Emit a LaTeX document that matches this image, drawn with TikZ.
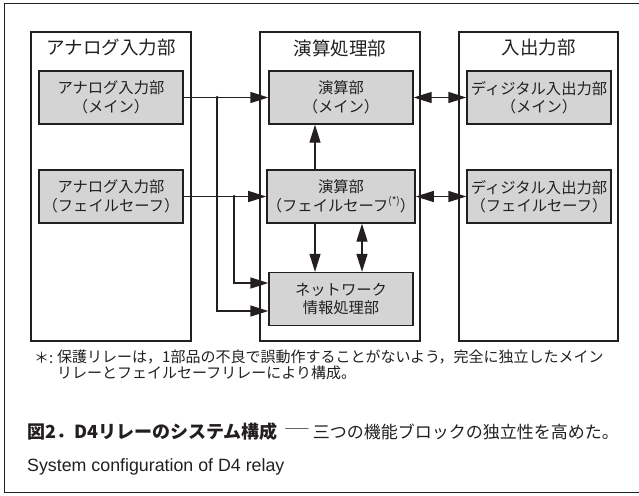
\documentclass[tikz,border=0pt]{standalone}
\usepackage{fontspec}
\setmainfont{Noto Sans CJK JP}
\newfontfamily\en{Liberation Sans}
\usetikzlibrary{arrows.meta}
\definecolor{boxgray}{HTML}{D4D4D4}
\definecolor{ink}{HTML}{231F20}
\begin{document}
\begin{tikzpicture}[x=1pt,y=-1pt,
  col/.style={draw=ink, line width=1.3pt, rectangle, minimum width=160pt, minimum height=309pt, inner sep=0},
  unit/.style={draw=ink, fill=boxgray, line width=1.3pt, rectangle, minimum width=144pt, minimum height=53pt,
     inner sep=0, align=center, font=\fontsize{15.3}{18.5}\selectfont, text=ink},
  ttl/.style={font=\fontsize{18.5}{20}\selectfont, text=ink, inner sep=0},
  tip/.tip={Triangle[length=18pt,width=11pt]},
  arr/.style={draw=ink, line width=1.3pt, -tip},
  darr/.style={draw=ink, line width=1.3pt, tip-tip},
  dot/.style={circle, fill=ink, inner sep=0, minimum size=3.5pt},
]
\useasboundingbox (0,0) rectangle (639,495);
\draw[ink, line width=1pt] (640,4) -- (4,4) -- (4,492) -- (640,492);

% columns
\node[col] (colA) at (111,186.5) {};
\node[col] (colB) at (340,186.5) {};
\node[col, minimum width=159pt] (colC) at (538.5,186.5) {};
\node[ttl] (tA) at (111,48) {アナログ入力部};
\node[ttl] (tB) at (340,48) {演算処理部};
\node[ttl] (tC) at (538.5,48) {入出力部};

% units
\node[unit] (ain1) at (111,97.5) {アナログ入力部\\（メイン）};
\node[unit] (ain2) at (111,196.5) {アナログ入力部\\（フェイルセーフ）};
\node[unit] (calc1) at (341,97.5) {演算部\\（メイン）};
\node[unit] (calc2) at (341,196.5) {演算部\\（フェイルセーフ\raisebox{0.45em}{\fontsize{10}{10}\selectfont(*)}）};
\node[unit] (net) at (341,299) {ネットワーク\\情報処理部};
\node[unit] (dio1) at (539,97.5) {ディジタル入出力部\\（メイン）};
\node[unit] (dio2) at (539,196.5) {ディジタル入出力部\\（フェイルセーフ）};

% helper coordinates
\coordinate (j1) at (217,97.5);
\coordinate (j2) at (234,196.5);
\coordinate (r1) at (0,311);
\coordinate (r2) at (0,283);
\coordinate (v1) at (315,0);
\coordinate (v2) at (362,0);

% connectors
\draw[arr] (ain1.east) -- (calc1.west);
\draw[arr] (ain2.east) -- (calc2.west);
\draw[arr] (j1) |- (net.west |- r1);
\draw[arr] (j2) |- (net.west |- r2);
\node[dot] (d1) at (j1) {};
\node[dot] (d2) at (j2) {};
\draw[arr] (calc2.north -| v1) -- (calc1.south -| v1);
\draw[arr] (calc2.south -| v1) -- (net.north -| v1);
\draw[darr] (calc2.south -| v2) -- (net.north -| v2);
\draw[darr] (calc1.east) -- (dio1.west);
\draw[darr] (calc2.east) -- (dio2.west);

% footnote
\node[anchor=west, inner sep=0, text=ink, font=\fontsize{15}{15}\selectfont] (fa) at (34,358) {＊:};
\node[anchor=north west, inner sep=0, text=ink, align=left, font=\fontsize{15}{15.5}\selectfont] (fb) at (57,350)
  {保護リレーは，1部品の不良で誤動作することがないよう，完全に独立したメイン\\リレーとフェイルセーフリレーにより構成。};

% caption
\node[anchor=west, inner sep=0, text=ink, font=\fontsize{18}{20}\selectfont\bfseries] (cap1) at (27,432) {図2．D4リレーのシステム構成};
\node[inner sep=0, text=ink, font=\fontsize{17}{20}\selectfont] (dash) at (297,432) {\scalebox{1.6}[1]{―}};
\node[anchor=east, inner sep=0, text=ink, font=\fontsize{17}{20}\selectfont] (cap2) at (619,432) {三つの機能ブロックの独立性を高めた。};
\node[anchor=west, inner sep=0, text=ink, font=\en\fontsize{17.8}{20}\selectfont] (cap3) at (27,467) {System configuration of D4 relay};
\end{tikzpicture}
\end{document}
